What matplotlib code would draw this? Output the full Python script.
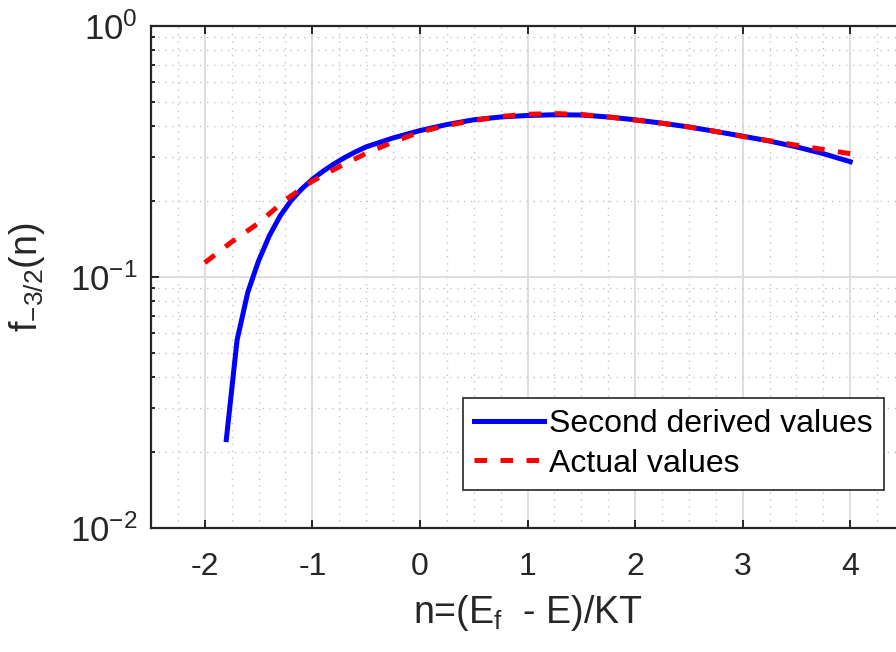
import matplotlib
matplotlib.use('Agg')
import matplotlib.pyplot as plt
import numpy as np
from matplotlib.ticker import LogLocator, MultipleLocator, NullFormatter

plt.rcParams['font.family'] = ['Liberation Sans', 'DejaVu Sans']
plt.rcParams['mathtext.fontset'] = 'custom'
plt.rcParams['mathtext.rm'] = 'Liberation Sans'
plt.rcParams['mathtext.it'] = 'Liberation Sans:italic'
plt.rcParams['mathtext.default'] = 'regular'
plt.rcParams['axes.unicode_minus'] = False

# second derived values (blue)
n_second = [-1.8, -1.7, -1.6, -1.5, -1.4, -1.3, -1.2, -1.1, -1.0, -0.9, -0.8,
            -0.7, -0.6, -0.5, -0.25, 0.0, 0.25, 0.5, 0.75, 1.0, 1.25, 1.5,
            1.75, 2.0, 2.25, 2.5, 2.75, 3.0, 3.25, 3.5, 3.75, 4.0]
f_second = [0.0225, 0.056, 0.087, 0.116, 0.146, 0.175, 0.201, 0.224, 0.245,
            0.264, 0.282, 0.299, 0.315, 0.330, 0.358, 0.383, 0.405, 0.423,
            0.434, 0.440, 0.443, 0.442, 0.434, 0.423, 0.410, 0.396, 0.380,
            0.364, 0.348, 0.330, 0.310, 0.288]

# actual values (red dashed)
n_actual = [-2.0, -1.75, -1.5, -1.25, -1.0, -0.75, -0.5, -0.25, 0.0, 0.25,
            0.5, 0.75, 1.0, 1.25, 1.5, 1.75, 2.0, 2.25, 2.5, 2.75, 3.0, 3.25,
            3.5, 3.75, 4.0]
f_actual = [0.114, 0.138, 0.164, 0.203, 0.241, 0.275, 0.311, 0.345, 0.378,
            0.402, 0.420, 0.436, 0.445, 0.448, 0.444, 0.434, 0.422, 0.410,
            0.396, 0.380, 0.363, 0.349, 0.335, 0.322, 0.310]

xticks = [-2, -1, 0, 1, 2, 3, 4]

fig = plt.figure(figsize=(8.96, 6.52), dpi=100)
ax = fig.add_axes([151/896, 1-528/652, 753/896, 502/652])

ax.plot(n_second, f_second, color='#0000ff', lw=3.6, label='Second derived values')
ax.plot(n_actual, f_actual, color='#ff0000', lw=3.6, linestyle=(0, (2.5, 2.7)),
        label='Actual values')

ax.set_yscale('log')
ax.set_xlim(-2.5, 4.5)
ax.set_ylim(1e-2, 1e0)
ax.set_xticks(xticks)
ax.xaxis.set_minor_locator(MultipleLocator(0.25))
ax.yaxis.set_minor_locator(LogLocator(base=10, subs=np.arange(2, 10)))
ax.yaxis.set_minor_formatter(NullFormatter())

ax.grid(True, which='major', color='#dedede', linewidth=1.4, linestyle='-')
ax.grid(True, which='minor', color='#c4c4c4', linewidth=1.0, linestyle=(0, (1, 4)))
ax.set_axisbelow(True)

dark = '#262626'
for s in ax.spines.values():
    s.set_color(dark)
    s.set_linewidth(1.6)

ax.tick_params(which='both', direction='in', top=True, right=True, colors=dark,
               width=1.4)
ax.tick_params(axis='x', which='major', labelsize=23, pad=17, length=6)
ax.tick_params(axis='y', which='major', labelsize=25, pad=10, length=6)
ax.tick_params(which='minor', length=3)
ax.tick_params(axis='x', which='minor', length=0)

ax.set_xlabel(r'n=(E$_{f}\ $ - E)/KT', fontsize=27, color=dark, labelpad=8)
ax.set_ylabel('f$_{-3/2}$(n)', fontsize=27, color=dark, labelpad=16)

leg = ax.legend(loc='lower left', bbox_to_anchor=(0.414, 0.076), borderaxespad=0,
                fontsize=23, handlelength=2.2, handletextpad=0.16, borderpad=0.35,
                labelspacing=0.3, fancybox=False, framealpha=1)
leg.get_frame().set_edgecolor(dark)
leg.get_frame().set_linewidth(1.2)

plt.savefig('out.png', dpi=100)
